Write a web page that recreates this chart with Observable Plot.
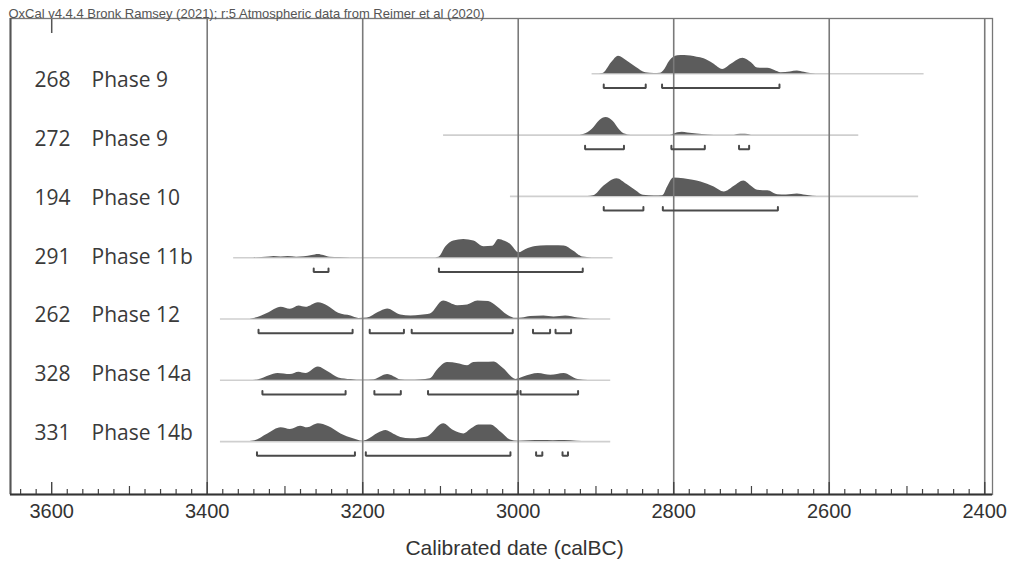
<!DOCTYPE html>
<html><head><meta charset="utf-8">
<script src="https://cdn.jsdelivr.net/npm/d3@7"></script>
<script src="https://cdn.jsdelivr.net/npm/@observablehq/plot@0.6"></script>
<style>body{margin:0;background:#fff;}</style>
</head><body><div id="chart"></div>
<script>
// ---- data (calBC years, relative probability 0-100) ----
const labNumbers = ["268", "272", "194", "291", "262", "328", "331"];
const phaseNames = ["Phase 9", "Phase 9", "Phase 10", "Phase 11b", "Phase 12", "Phase 14a", "Phase 14b"];

const dist268 = [[2900,0],[2891,2],[2880,60],[2871,96],[2860,70],[2848,35],[2836,6],[2825,2],[2817,3],[2813,15],[2805,70],[2795,98],[2786,100],[2778,97],[2770,90],[2761,82],[2749,55],[2737,24],[2725,55],[2711,85],[2700,60],[2692,31],[2685,30],[2679,30],[2670,18],[2662,6],[2650,10],[2641,15],[2632,8],[2624,2],[2610,0]];
const dist272 = [[2925,0],[2916,3],[2905,30],[2895,80],[2887,96],[2878,75],[2870,30],[2864,8],[2855,1],[2805,0],[2800,5],[2795,13],[2789,16],[2782,12],[2770,6],[2756,2],[2740,0],[2722,1],[2714,5],[2708,5],[2700,1],[2690,0]];
const dist194 = [[2910,0],[2903,3],[2890,55],[2873,97],[2860,65],[2848,30],[2839,6],[2825,2],[2814,4],[2808,50],[2800,100],[2787,97],[2775,88],[2765,78],[2748,51],[2735,24],[2722,55],[2710,84],[2700,55],[2692,33],[2685,31],[2679,31],[2666,9],[2655,8],[2641,13],[2630,6],[2621,1],[2610,0]];
const dist291 = [[3340,0],[3320,4],[3314,6],[3305,4],[3296,6],[3285,3],[3275,5],[3265,12],[3257,18],[3250,12],[3242,3],[3230,1],[3200,0],[3110,0],[3102,3],[3093,60],[3083,91],[3070,100],[3057,91],[3044,60],[3033,62],[3025,100],[3017,90],[3010,73],[2999,27],[2990,45],[2984,55],[2971,64],[2955,65],[2941,64],[2929,37],[2917,4],[2905,0]];
const dist262 = [[3350,0],[3340,3],[3322,31],[3305,64],[3293,53],[3282,71],[3273,64],[3257,89],[3245,71],[3231,31],[3215,16],[3205,3],[3194,5],[3180,35],[3168,55],[3151,22],[3138,16],[3125,20],[3113,27],[3096,98],[3078,73],[3065,77],[3052,98],[3038,95],[3027,67],[3014,22],[3003,4],[2995,5],[2984,13],[2967,16],[2954,11],[2939,16],[2923,5],[2907,0]];
const dist328 = [[3345,0],[3334,3],[3320,25],[3309,37],[3293,31],[3282,44],[3273,37],[3257,73],[3244,45],[3231,13],[3215,4],[3200,1],[3185,3],[3175,22],[3168,31],[3160,20],[3151,3],[3140,1],[3125,3],[3113,9],[3104,55],[3091,97],[3077,91],[3065,80],[3057,97],[3045,98],[3031,100],[3019,64],[3003,5],[2993,18],[2974,37],[2958,27],[2941,37],[2923,4],[2910,0]];
const dist331 = [[3350,0],[3340,3],[3322,42],[3305,75],[3293,66],[3280,84],[3271,75],[3257,97],[3244,82],[3228,42],[3212,15],[3200,2],[3194,9],[3180,45],[3170,60],[3160,40],[3151,23],[3138,15],[3125,20],[3116,27],[3096,97],[3083,60],[3070,42],[3060,70],[3051,91],[3035,91],[3022,51],[3010,9],[3000,2],[2985,5],[2970,6],[2955,5],[2940,6],[2925,2],[2910,0]];

const range268 = [[2890,2836],[2815,2664]];
const range272 = [[2914,2864],[2803,2760],[2716,2703]];
const range194 = [[2890,2839],[2814,2666]];
const range291 = [[3263,3244],[3102,2917]];
const range262 = [[3334,3213],[3191,3147],[3137,3007],[2981,2959],[2952,2932]];
const range328 = [[3329,3222],[3185,3151],[3116,3001],[2997,2923]];
const range331 = [[3336,3210],[3196,3010],[2977,2969],[2943,2936]];

const span268 = [2905, 2478];
const span272 = [3096, 2562];
const span194 = [3010, 2485];
const span291 = [3366, 2878];
const span262 = [3383, 2881];
const span328 = [3383, 2881];
const span331 = [3383, 2881];

const tickLabels = [3600, 3400, 3200, 3000, 2800, 2600, 2400];
const gridYears = [3400, 3200, 3000, 2800, 2600, 2400];
const captionText = "OxCal v4.4.4 Bronk Ramsey (2021); r:5 Atmospheric data from Reimer et al (2020)";
const axisTitle = "Calibrated date (calBC)";

// ---- build tables ----
const dists = [dist268, dist272, dist194, dist291, dist262, dist328, dist331];
const ranges = [range268, range272, range194, range291, range262, range328, range331];
const spans = [span268, span272, span194, span291, span262, span328, span331];

const PX = 1 / 61.3;          // one pixel in row units
const HMAX = 18.3 * PX;       // height of 100% probability
const yTop = -0.902, yBot = 6.863;

const areaData = dists.flatMap((pts, row) => pts.map(([year, p]) => ({row, year, p})));
const spanData = spans.map(([a, b], row) => ({row, a, b}));
let bid = 0;
const bracketData = ranges.flatMap((rs, row) => rs.flatMap(([a, b]) => {
  const id = bid++;
  const yb = row + 14.2 * PX, yc = yb - 3.5 * PX;
  return [{id, x: a, y: yc}, {id, x: a, y: yb}, {id, x: b, y: yb}, {id, x: b, y: yc}];
}));
const labelData = labNumbers.map((n, i) => ({n, phase: phaseNames[i], i}));
const minorTicks = d3.range(2400, 3641, 20).filter(t => t % 100 !== 0);
const midTicks = d3.range(2500, 3641, 200);
const majorTicks = tickLabels;

const chart = Plot.plot({
  width: 1012, height: 567,
  marginLeft: 10, marginRight: 20, marginTop: 18, marginBottom: 73,
  x: {domain: [3653, 2390]},
  y: {domain: [yTop, yBot], reverse: true, axis: null},
  style: {fontFamily: "'Liberation Sans', Arial, sans-serif", background: "#fff", color: "#333"},
  marks: [
    Plot.ruleY(spanData, {y: "row", x1: "a", x2: "b", stroke: "#cfcfcf", strokeWidth: 1.6}),
    Plot.areaY(areaData, {x: "year", y1: "row", y2: d => d.row - d.p / 100 * HMAX, z: "row", fill: "#5c5c5c", curve: "monotone-x"}),
    Plot.ruleX(gridYears, {stroke: "#7a7a7a", strokeWidth: 1.6}),
    Plot.line(bracketData, {x: "x", y: "y", z: "id", stroke: "#4a4a4a", strokeWidth: 2, strokeLinejoin: "miter"}),
    Plot.ruleX([3600], {y1: yTop, y2: yTop + 15 * PX, stroke: "#555", strokeWidth: 1.5}),
    Plot.ruleX(minorTicks, {y1: yBot, y2: yBot - 5 * PX, stroke: "#444", strokeWidth: 1.2}),
    Plot.ruleX(midTicks, {y1: yBot, y2: yBot - 8 * PX, stroke: "#444", strokeWidth: 1.2}),
    Plot.ruleX(majorTicks, {y1: yBot, y2: yBot - 12 * PX, stroke: "#444", strokeWidth: 1.4}),
    Plot.frame({stroke: "#777", strokeWidth: 1.3}),
    Plot.ruleX([3653], {stroke: "#555", strokeWidth: 2}),
    Plot.ruleY([yBot], {stroke: "#333", strokeWidth: 2}),
    Plot.axisX({ticks: tickLabels, tickSize: 0, tickPadding: 9, fontSize: 20, tickFormat: d => String(d), label: null, fill: "#333"}),
    Plot.text([axisTitle], {frameAnchor: "bottom", dx: 13, dy: 60, fontSize: 21, fill: "#333"}),
    Plot.text([captionText], {frameAnchor: "top-left", textAnchor: "start", dx: -2, dy: -10, fontSize: 13, fill: "#555"}),
    Plot.text(labelData, {frameAnchor: "left", y: d => 0.109 + 0.959 * d.i, text: "n", textAnchor: "end", dx: 60, fontSize: 21, fontFamily: "'Open Sans', sans-serif", fill: "#3a3a3a"}),
    Plot.text(labelData, {frameAnchor: "left", y: d => 0.109 + 0.959 * d.i, text: "phase", textAnchor: "start", dx: 81, fontSize: 21, fontFamily: "'Open Sans', sans-serif", fill: "#3a3a3a"})
  ]
});
document.getElementById("chart").appendChild(chart);
</script>
</body></html>
